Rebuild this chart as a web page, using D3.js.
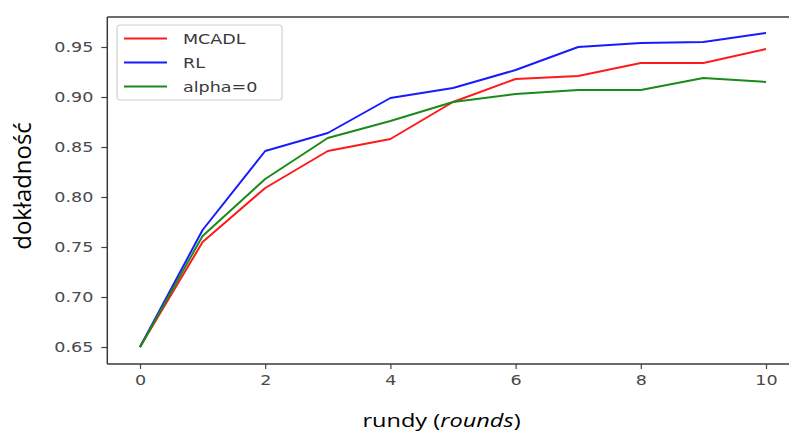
<!DOCTYPE html>
<html>
<head>
<meta charset="utf-8">
<script src="https://cdn.jsdelivr.net/npm/d3@7/dist/d3.min.js"></script>
<style>
  html, body { margin: 0; padding: 0; background: #fff; }
  svg { display: block; }
</style>
</head>
<body>
<svg id="chart" width="789" height="433"></svg>
<script>
// Accuracy per federated round for three methods
const rounds = [0, 1, 2, 3, 4, 5, 6, 7, 8, 9, 10];
const mcadl  = [0.650, 0.755, 0.809, 0.846, 0.858, 0.895, 0.918, 0.921, 0.934, 0.934, 0.948];
const rl     = [0.650, 0.767, 0.846, 0.864, 0.899, 0.909, 0.927, 0.950, 0.954, 0.955, 0.964];
const alpha0 = [0.650, 0.761, 0.818, 0.859, 0.876, 0.895, 0.903, 0.907, 0.907, 0.919, 0.915];
const seriesNames = ["MCADL", "RL", "alpha=0"];
const seriesColors = ["#ff1a1a", "#1a1aff", "#1a8a1a"];
const xTicks = [0, 2, 4, 6, 8, 10];
const yTicks = [0.65, 0.70, 0.75, 0.80, 0.85, 0.90, 0.95];

const series = [mcadl, rl, alpha0].map((vals, i) => ({
  name: seriesNames[i], color: seriesColors[i], values: vals
}));

const svg = d3.select("#chart");
const plotL = 108.7, plotR = 797.3, plotT = 17, plotB = 364;
const sx = 1.3; // horizontal stretch of the label glyphs

const x = d3.scaleLinear().domain([-0.5, 10.5]).range([plotL, plotR]);
const y = d3.scaleLinear().domain([0.633, 0.98]).range([plotB, plotT]);

// stretch a text element horizontally around its anchor point
function stretch(sel, ax, s = sx) {
  sel.attr("transform", `translate(${ax},0) scale(${s},1) translate(${-ax},0)`);
}

// axes
const xAxis = d3.axisBottom(x).tickValues(xTicks).tickFormat(d3.format("d"))
  .tickSize(5).tickPadding(6);
const yAxis = d3.axisLeft(y).tickValues(yTicks).tickFormat(d3.format(".2f"))
  .tickSize(6).tickPadding(8);

const gx = svg.append("g").attr("transform", `translate(0,${plotB})`).call(xAxis);
const gy = svg.append("g").attr("transform", `translate(${plotL - 1.4},0)`).call(yAxis);
[gx, gy].forEach(g => {
  g.select(".domain").remove();
  g.selectAll(".tick line").attr("stroke", "#444").attr("stroke-width", 1.2);
  g.selectAll(".tick text")
    .attr("font-family", "DejaVu Sans")
    .attr("font-size", 13.5)
    .attr("fill", "#4a4a4a");
});
gx.selectAll(".tick text").each(function () { stretch(d3.select(this), 0); });
gy.selectAll(".tick text").each(function () {
  const t = d3.select(this);
  stretch(t, +t.attr("x"));
});

// lines
const line = d3.line().x((d, i) => x(rounds[i])).y(d => y(d));
svg.append("g").selectAll("path").data(series).join("path")
  .attr("fill", "none")
  .attr("stroke", d => d.color)
  .attr("stroke-width", 2)
  .attr("stroke-linejoin", "round")
  .attr("d", d => line(d.values));

// spines (the right one falls past the canvas edge)
const frame = svg.append("g").attr("stroke", "#3a3a3a").attr("stroke-width", 1.5);
frame.append("line").attr("x1", plotL - 1.4).attr("x2", plotL - 1.4).attr("y1", plotT).attr("y2", plotB);
frame.append("line").attr("x1", plotL - 1.4).attr("x2", plotR).attr("y1", plotT).attr("y2", plotT);
frame.append("line").attr("x1", plotL - 1.4).attr("x2", plotR).attr("y1", plotB).attr("y2", plotB);

// legend
const lg = svg.append("g").attr("transform", "translate(117,25)");
lg.append("rect").attr("width", 165).attr("height", 75).attr("rx", 3)
  .attr("fill", "#fff").attr("fill-opacity", 0.85)
  .attr("stroke", "#d0d0d0").attr("stroke-width", 1.2);
const item = lg.selectAll("g.item").data(series).join("g")
  .attr("class", "item")
  .attr("transform", (d, i) => `translate(0,${13.5 + i * 24})`);
item.append("line").attr("x1", 7).attr("x2", 50)
  .attr("stroke", d => d.color).attr("stroke-width", 2);
item.append("text").attr("x", 66).attr("y", 5)
  .attr("font-family", "DejaVu Sans").attr("font-size", 13.5)
  .attr("fill", "#3a3a3a")
  .text(d => d.name)
  .each(function () { stretch(d3.select(this), 66); });

// axis titles
const xl = svg.append("text")
  .attr("x", 441.5).attr("y", 427)
  .attr("text-anchor", "middle")
  .attr("font-family", "Open Sans").attr("font-size", 19)
  .attr("fill", "#000");
xl.append("tspan").text("rundy (");
xl.append("tspan").attr("font-style", "italic").text("rounds");
xl.append("tspan").text(")");
stretch(xl, 441.5, 1.24);

svg.append("text")
  .attr("transform", "translate(31,186) rotate(-90) scale(1.33,1.3)")
  .attr("text-anchor", "middle")
  .attr("font-family", "Open Sans").attr("font-size", 18)
  .attr("fill", "#000")
  .text("dokładność");
</script>
</body>
</html>
